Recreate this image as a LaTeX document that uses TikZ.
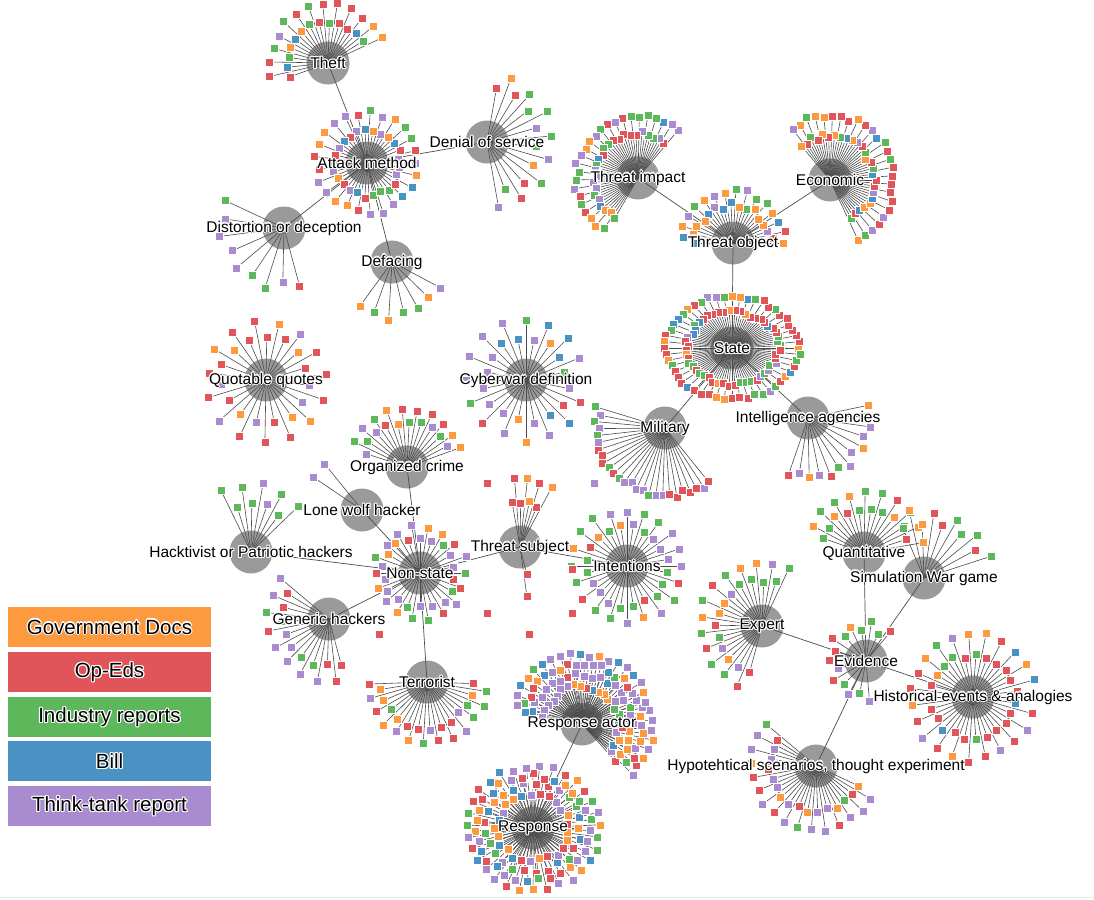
\documentclass[tikz,border=0pt]{standalone}
\usepackage{fontspec}
\setmainfont{Liberation Sans}
\definecolor{cO}{HTML}{FD9A3F}
\definecolor{cR}{HTML}{E0555A}
\definecolor{cG}{HTML}{5DB75B}
\definecolor{cB}{HTML}{4A92C4}
\definecolor{cP}{HTML}{A98BD0}
\definecolor{hubgray}{HTML}{9A9A9A}
\tikzset{
 hub/.style={circle,fill=hubgray,minimum size=43pt,inner sep=0},
 leaf/.style={rectangle,minimum size=8pt,inner sep=0,draw=white,line width=0.5pt},
 spoke/.style={draw=black!70,line width=0.6pt},
 link/.style={draw=black!70,line width=0.7pt},
 lbl/.style={font=\fontsize{15.5}{18}\selectfont,inner sep=0},
 leglbl/.style={font=\fontsize{20.5}{24}\selectfont,inner sep=0},
 legbox/.style={rectangle,minimum width=203pt,minimum height=40pt,inner sep=0},
}
\pgfmathdeclarerandomlist{Ltheft}{{cR}{cR}{cR}{cO}{cO}{cG}{cG}{cB}{cP}}
\pgfmathdeclarerandomlist{Lattack}{{cP}{cP}{cG}{cR}{cO}{cB}{cG}{cR}{cP}}
\pgfmathdeclarerandomlist{Ldenial}{{cP}{cR}{cG}{cO}{cP}{cR}}
\pgfmathdeclarerandomlist{Ldist}{{cR}{cP}{cG}{cP}{cG}}
\pgfmathdeclarerandomlist{Ldeface}{{cG}{cP}{cP}{cG}{cO}}
\pgfmathdeclarerandomlist{Limpact}{{cP}{cP}{cR}{cG}{cO}{cB}{cP}{cR}{cG}}
\pgfmathdeclarerandomlist{Lecon}{{cR}{cG}{cO}{cP}{cB}{cR}{cG}{cO}}
\pgfmathdeclarerandomlist{Lobject}{{cB}{cO}{cR}{cP}{cG}{cB}{cO}}
\pgfmathdeclarerandomlist{Lstate}{{cR}{cR}{cG}{cO}{cP}{cB}{cR}{cG}{cR}}
\pgfmathdeclarerandomlist{Lmil}{{cR}{cG}{cP}{cG}{cR}{cP}}
\pgfmathdeclarerandomlist{Lintel}{{cP}{cO}{cR}{cG}{cP}}
\pgfmathdeclarerandomlist{Lquote}{{cR}{cO}{cP}{cR}}
\pgfmathdeclarerandomlist{Lcyber}{{cP}{cR}{cO}{cG}{cP}{cP}{cB}}
\pgfmathdeclarerandomlist{Lorg}{{cP}{cO}{cR}{cG}{cP}}
\pgfmathdeclarerandomlist{Lpurple}{{cP}}
\pgfmathdeclarerandomlist{Lhack}{{cG}{cP}}
\pgfmathdeclarerandomlist{Lnon}{{cP}{cP}{cG}{cO}{cR}}
\pgfmathdeclarerandomlist{Lgen}{{cP}{cR}{cG}}
\pgfmathdeclarerandomlist{Lterr}{{cR}{cO}{cP}{cG}{cR}{cP}}
\pgfmathdeclarerandomlist{Lsubj}{{cR}{cR}{cO}}
\pgfmathdeclarerandomlist{Lred}{{cR}}
\pgfmathdeclarerandomlist{Lint}{{cP}{cG}{cR}{cO}{cP}{cG}}
\pgfmathdeclarerandomlist{Lract}{{cP}{cP}{cO}{cR}{cB}{cG}{cP}{cO}}
\pgfmathdeclarerandomlist{Lresp}{{cP}{cO}{cR}{cB}{cP}{cO}{cR}{cG}}
\pgfmathdeclarerandomlist{Lexpert}{{cG}{cR}{cO}{cP}{cG}{cR}}
\pgfmathdeclarerandomlist{Levid}{{cP}{cG}{cO}{cR}}
\pgfmathdeclarerandomlist{Lquant}{{cG}{cG}{cR}{cO}{cG}}
\pgfmathdeclarerandomlist{Lsim}{{cR}{cO}{cG}{cR}}
\pgfmathdeclarerandomlist{Lhist}{{cR}{cR}{cR}{cP}{cG}{cO}{cR}{cB}}
\pgfmathdeclarerandomlist{Lhypo}{{cP}{cP}{cG}{cR}{cO}{cP}}
% fan of leaves: hub, N, a0, a1, rA, rB, list, seed, ystretch
% pass 1 (\fanmode=1): named coordinates + spokes; pass 2: leaf squares
\def\fanmode{1}
\newcommand\fan[9]{%
 \pgfmathsetseed{#8}%
 \foreach \i in {1,...,#2}{%
  \pgfmathsetmacro\ang{#3+((#4)-(#3))/max(#2-1,1)*(\i-1)}%
  \pgfmathsetmacro\rad{(mod(\i,2)==0 ? #5 : #6)+3*rand}%
  \pgfmathrandomitem{\col}{#7}%
  \ifnum\fanmode=1
   \path (#1.center) ++({cos(\ang)*\rad},{-sin(\ang)*\rad*#9}) coordinate (#1-#8-\i-c);
   \draw[spoke] (#1.center) -- (#1-#8-\i-c);
  \else
   \node[leaf,fill=\col] (#1-#8-\i) at (#1-#8-\i-c) {};
  \fi
 }}
\newcommand\allfans{%
\fan{theft}{26}{25}{200}{40}{58}{Ltheft}{11}{1}
\fan{attack}{50}{0}{360-360/50}{33}{50}{Lattack}{12}{1}
\fan{denial}{16}{-80}{80}{52}{66}{Ldenial}{13}{1}
\fan{dist}{9}{155}{285}{57}{63}{Ldist}{14}{1}
\fan{deface}{7}{234}{332}{52}{56}{Ldeface}{15}{1}
\fan{impact}{50}{50}{240}{44}{62}{Limpact}{16}{1}
\fan{econ}{52}{-65}{130}{44}{64}{Lecon}{17}{1}
\fan{object}{30}{0}{180}{38}{52}{Lobject}{18}{1}
\fan{state}{104}{0}{360-360/104}{46}{66}{Lstate}{19}{0.78}
\fan{mil}{26}{163}{309}{66}{70}{Lmil}{20}{1}
\fan{intel}{13}{251}{372}{56}{62}{Lintel}{21}{1}
\fan{quote}{30}{5}{365-360/30}{44}{60}{Lquote}{22}{1}
\fan{cyber}{32}{0}{360-360/32}{42}{60}{Lcyber}{23}{1}
\fan{org}{20}{20}{162}{45}{58}{Lorg}{24}{1}
\fan{lone}{2}{129}{146}{58}{58}{Lpurple}{25}{1}
\fan{hack}{9}{44}{116}{48}{68}{Lhack}{26}{1}
\fan{non}{36}{0}{360-360/36}{36}{46}{Lnon}{27}{1}
\fan{gen}{18}{140}{285}{48}{62}{Lgen}{28}{1}
\fan{terr}{26}{182}{358}{46}{60}{Lterr}{29}{1}
\fan{subj}{8}{62}{100}{45}{68}{Lsubj}{30}{1}
\fan{subj}{2}{-82}{-76}{30}{48}{Lred}{31}{1}
\fan{intent}{40}{0}{360-360/40}{40}{56}{Lint}{32}{1}
\fan{ract}{46}{-48}{170}{38}{50}{Lract}{33}{1}
\fan{ract}{54}{-45}{168}{60}{70}{Lract}{34}{1}
\fan{resp}{50}{0}{360-360/50}{36}{47}{Lresp}{35}{0.92}
\fan{resp}{62}{3}{363-360/62}{57}{67}{Lresp}{36}{0.92}
\fan{expert}{26}{65}{255}{45}{62}{Lexpert}{37}{1}
\fan{evid}{15}{50}{275}{30}{40}{Levid}{38}{1}
\fan{quant}{20}{10}{160}{45}{60}{Lquant}{39}{1}
\fan{sim}{10}{18}{113}{55}{68}{Lsim}{40}{1}
\fan{hist}{46}{0}{360-360/46}{42}{62}{Lhist}{41}{1}
\fan{hypo}{32}{140}{335}{46}{64}{Lhypo}{42}{1}
}
% label with white halo
\newcommand\hl[3]{%
 \foreach \dx/\dy in {1.2/0,-1.2/0,0/1.2,0/-1.2,0.85/0.85,0.85/-0.85,-0.85/0.85,-0.85/-0.85}
   \node[#2,text=white,xshift=\dx pt,yshift=\dy pt] at (#1.center) {#3};
 \node[#2] (#1-lbl) at (#1.center) {#3};}
\begin{document}
\begin{tikzpicture}[x=1pt,y=-1pt]
\useasboundingbox (0,0) rectangle (1094,899);
\fill[white] (0,0) rectangle (1094,899);
\draw[black!8,line width=1pt] (0,897.5) -- (1094,897.5);
% hubs
\node[hub] (theft) at (328,63) {};
\node[hub] (attack) at (367,163) {};
\node[hub] (denial) at (487,142) {};
\node[hub] (dist) at (284,228) {};
\node[hub] (deface) at (392,262) {};
\node[hub] (impact) at (638,178) {};
\node[hub] (econ) at (830,180) {};
\node[hub] (object) at (733,243) {};
\node[hub] (state) at (732,348) {};
\node[hub] (mil) at (665,428) {};
\node[hub] (intel) at (808,418) {};
\node[hub] (quote) at (266,380) {};
\node[hub] (cyber) at (526,380) {};
\node[hub] (org) at (407,467) {};
\node[hub] (lone) at (362,510) {};
\node[hub] (hack) at (251,552) {};
\node[hub] (non) at (420,573) {};
\node[hub] (gen) at (329,619) {};
\node[hub] (terr) at (427,682) {};
\node[hub] (subj) at (520,547) {};
\node[hub] (intent) at (627,566) {};
\node[hub] (ract) at (582,724) {};
\node[hub] (resp) at (533,828) {};
\node[hub] (expert) at (762,626) {};
\node[hub] (evid) at (866,661) {};
\node[hub] (quant) at (864,553) {};
\node[hub] (sim) at (924,578) {};
\node[hub] (hist) at (973,697) {};
\node[hub] (hypo) at (816,766) {};
% hub links
\draw[link] (theft.center) -- (attack.center);
\draw[link] (attack.center) -- (denial.center);
\draw[link] (attack.center) -- (dist.center);
\draw[link] (attack.center) -- (deface.center);
\draw[link] (impact.center) -- (object.center);
\draw[link] (econ.center) -- (object.center);
\draw[link] (object.center) -- (state.center);
\draw[link] (state.center) -- (mil.center);
\draw[link] (state.center) -- (intel.center);
\draw[link] (org.center) -- (non.center);
\draw[link] (lone.center) -- (non.center);
\draw[link] (hack.center) -- (non.center);
\draw[link] (gen.center) -- (non.center);
\draw[link] (non.center) -- (terr.center);
\draw[link] (non.center) -- (subj.center);
\draw[link] (subj.center) -- (intent.center);
\draw[link] (ract.center) -- (resp.center);
\draw[link] (expert.center) -- (evid.center);
\draw[link] (quant.center) -- (evid.center);
\draw[link] (sim.center) -- (evid.center);
\draw[link] (hist.center) -- (evid.center);
\draw[link] (hypo.center) -- (evid.center);
% spokes, then leaves
\def\fanmode{1}\allfans
\def\fanmode{2}\allfans
% isolated squares
\node[leaf,fill=cR] (iso1) at (379,634) {};
\node[leaf,fill=cR] (iso2) at (487,483) {};
\node[leaf,fill=cP] (iso3) at (594,483) {};
\node[leaf,fill=cR] (iso4) at (572,569) {};
\node[leaf,fill=cR] (iso5) at (487,613) {};
\node[leaf,fill=cR] (iso6) at (572,613) {};
\node[leaf,fill=cR] (iso7) at (529,634) {};
% hub labels
\hl{theft}{lbl}{Theft}
\hl{attack}{lbl}{Attack method}
\hl{denial}{lbl}{Denial of service}
\hl{dist}{lbl}{Distortion or deception}
\hl{deface}{lbl}{Defacing}
\hl{impact}{lbl}{Threat impact}
\hl{econ}{lbl}{Economic}
\hl{object}{lbl}{Threat object}
\hl{state}{lbl}{State}
\hl{mil}{lbl}{Military}
\hl{intel}{lbl}{Intelligence agencies}
\hl{quote}{lbl}{Quotable quotes}
\hl{cyber}{lbl}{Cyberwar definition}
\hl{org}{lbl}{Organized crime}
\hl{lone}{lbl}{Lone wolf hacker}
\hl{hack}{lbl}{Hacktivist or Patriotic hackers}
\hl{non}{lbl}{Non-state}
\hl{gen}{lbl}{Generic hackers}
\hl{terr}{lbl}{Terrorist}
\hl{subj}{lbl}{Threat subject}
\hl{intent}{lbl}{Intentions}
\hl{ract}{lbl}{Response actor}
\hl{resp}{lbl}{Response}
\hl{expert}{lbl}{Expert}
\hl{evid}{lbl}{Evidence}
\hl{quant}{lbl}{Quantitative}
\hl{sim}{lbl}{Simulation War game}
\hl{hist}{lbl}{Historical events \& analogies}
\hl{hypo}{lbl}{Hypotehtical scenarios, thought experiment}
% legend
\node[legbox,fill=cO] (leg1) at (109.5,627) {};
\node[legbox,fill=cR] (leg2) at (109.5,672) {};
\node[legbox,fill=cG] (leg3) at (109.5,717) {};
\node[legbox,fill=cB] (leg4) at (109.5,761) {};
\node[legbox,fill=cP] (leg5) at (109.5,806) {};
\hl{leg1}{leglbl}{Government Docs}
\hl{leg2}{leglbl}{Op-Eds}
\hl{leg3}{leglbl}{Industry reports}
\hl{leg4}{leglbl}{Bill}
\hl{leg5}{leglbl}{Think-tank report}
\end{tikzpicture}
\end{document}
